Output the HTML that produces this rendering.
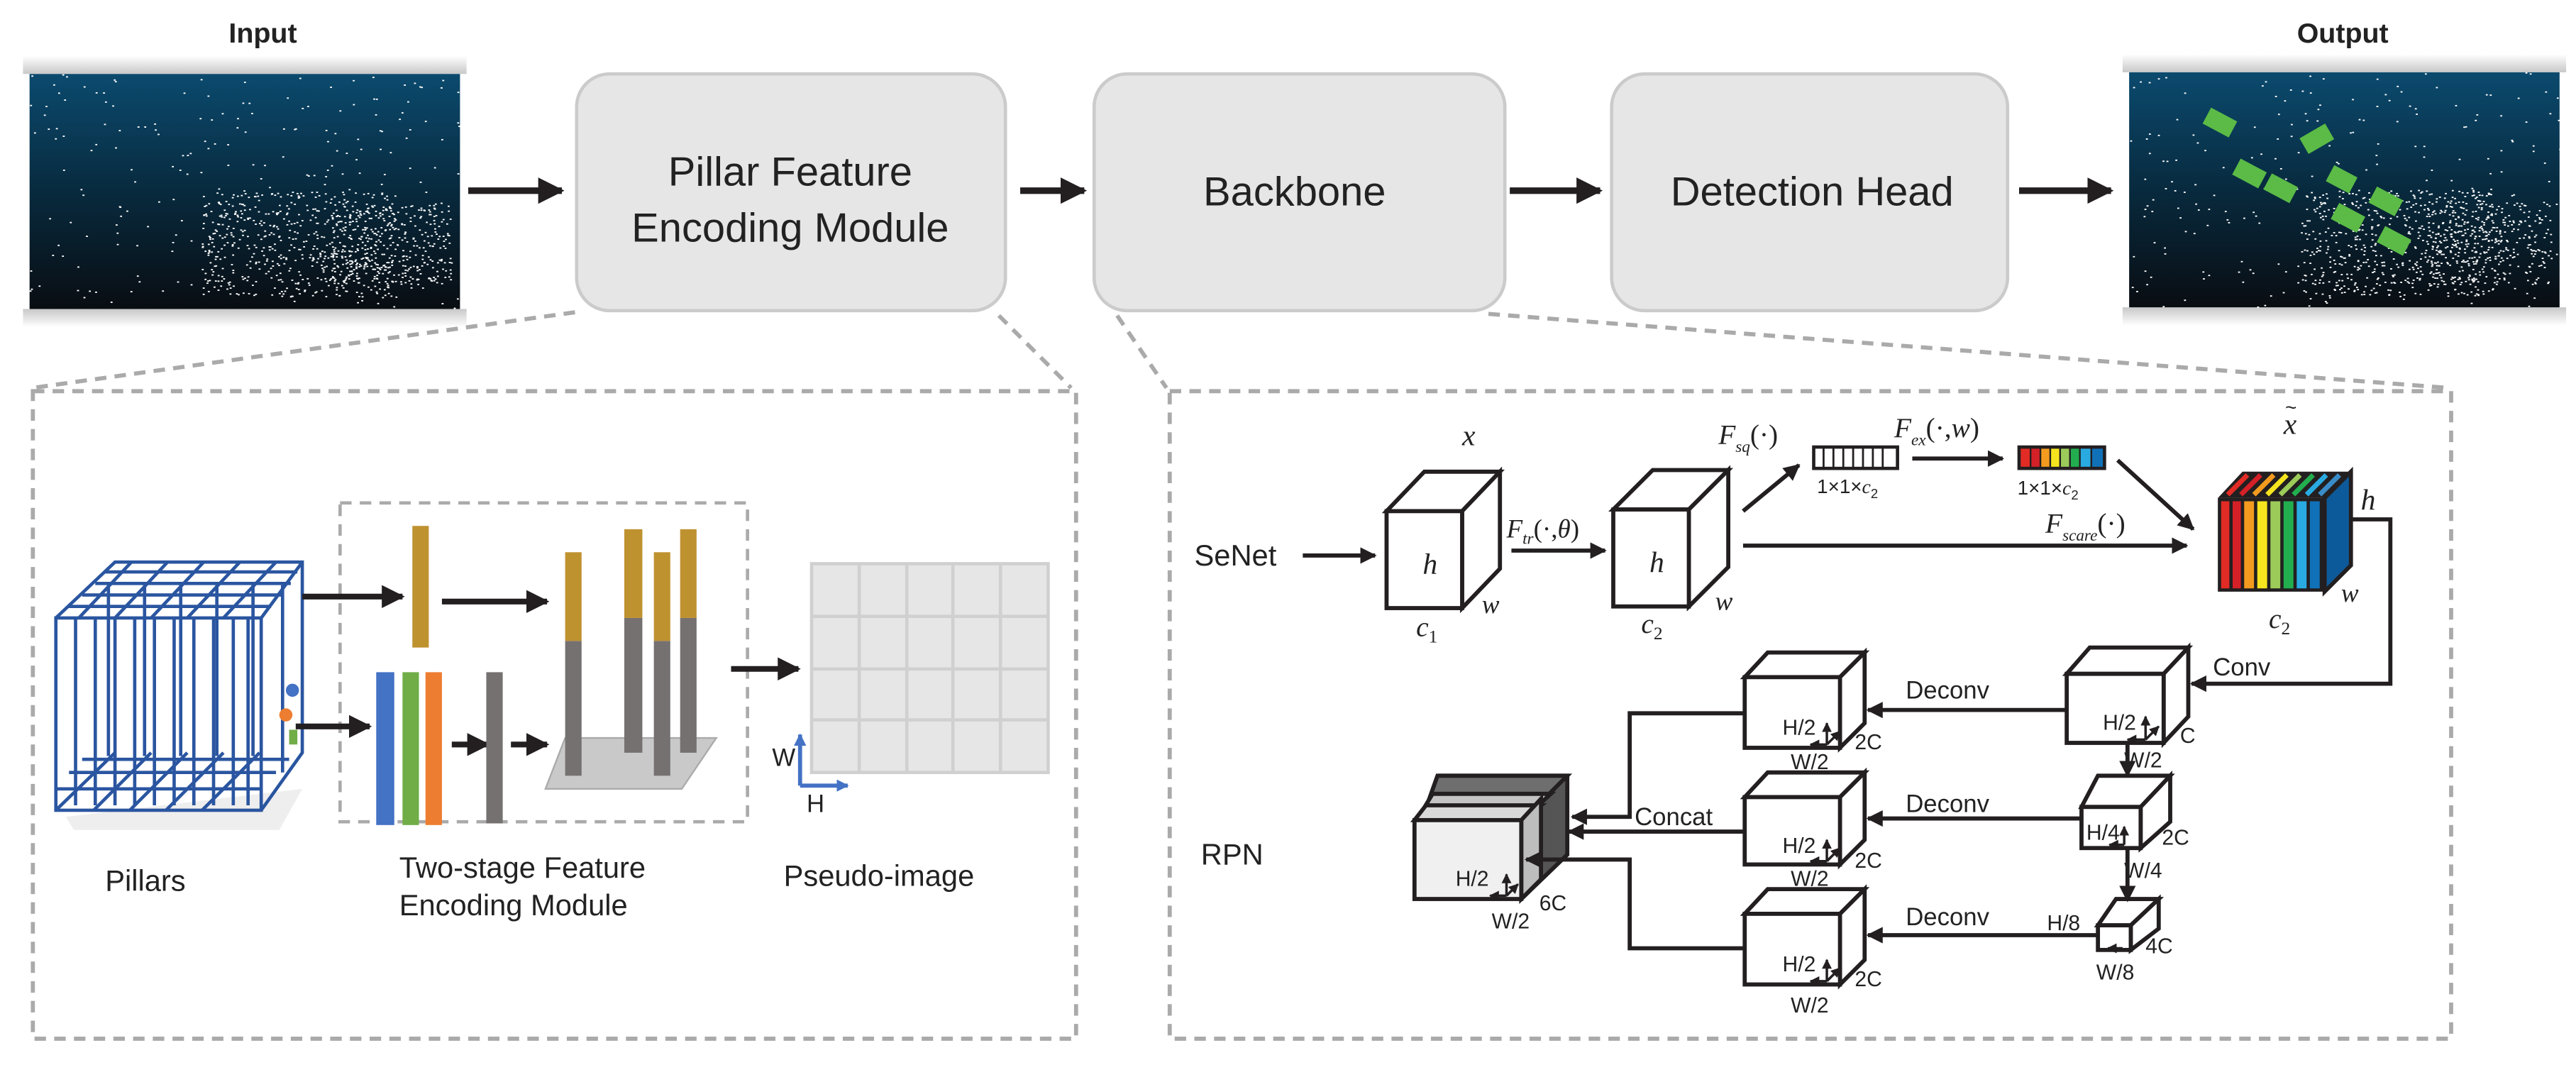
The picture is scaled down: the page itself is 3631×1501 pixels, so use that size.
<!DOCTYPE html>
<html><head><meta charset="utf-8"><style>
html,body{margin:0;padding:0;background:#fff}
svg{display:block}
.s{font-family:"Liberation Sans",sans-serif;fill:#222}
.m{font-family:"Liberation Serif",serif;font-style:italic;fill:#222}
</style></head><body>
<svg width="3631" height="1501" viewBox="0 0 1568 648" preserveAspectRatio="none" xmlns="http://www.w3.org/2000/svg">
<defs>
<marker id="a" viewBox="0 0 10 10" refX="9" refY="5" markerWidth="4" markerHeight="4" orient="auto"><path d="M0,0L10,5L0,10z" fill="#231f20"/></marker>
<marker id="c" viewBox="0 0 10 10" refX="9" refY="5" markerWidth="3" markerHeight="3" orient="auto"><path d="M0,0L10,5L0,10z" fill="#4472c4"/></marker>
<linearGradient id="g" x1="0" y1="0" x2="0" y2="1"><stop offset="0" stop-color="#0b4a6e"/><stop offset="0.5" stop-color="#082a3e"/><stop offset="1" stop-color="#090d12"/></linearGradient>
<linearGradient id="sh" x1="0" y1="0" x2="0" y2="1"><stop offset="0" stop-color="#fff"/><stop offset="1" stop-color="#c8c8c8"/></linearGradient>
<linearGradient id="sh2" x1="0" y1="0" x2="0" y2="1"><stop offset="0" stop-color="#c8c8c8"/><stop offset="1" stop-color="#fff"/></linearGradient>
</defs>

<text class="s" x="160" y="26" font-size="17" font-weight="bold" text-anchor="middle">Input</text>
<text class="s" x="1426" y="26" font-size="17" font-weight="bold" text-anchor="middle">Output</text>
<rect x="14" y="34" width="270" height="11" fill="url(#sh)"/>
<rect x="14" y="188" width="270" height="11" fill="url(#sh2)"/>
<rect x="1292" y="33" width="270" height="11" fill="url(#sh)"/>
<rect x="1292" y="187" width="270" height="11" fill="url(#sh2)"/>
<rect x="18" y="45" width="262" height="143" fill="url(#g)"/>
<rect x="1296" y="44" width="262" height="143" fill="url(#g)"/>
<g id="pts1" fill="#fff"></g>
<g id="pts2" fill="#fff"></g>
<g fill="#5bbb46">
<rect x="1342" y="69" width="18" height="11" transform="rotate(28 1351 75)"/>
<rect x="1401" y="79" width="18" height="11" transform="rotate(-30 1410 84)"/>
<rect x="1360" y="100" width="18" height="11" transform="rotate(28 1369 106)"/>
<rect x="1379" y="109" width="18" height="11" transform="rotate(28 1388 115)"/>
<rect x="1417" y="104" width="16" height="11" transform="rotate(28 1426 110)"/>
<rect x="1443" y="117" width="18" height="11" transform="rotate(28 1452 123)"/>
<rect x="1420" y="127" width="18" height="11" transform="rotate(28 1429 133)"/>
<rect x="1448" y="141" width="18" height="11" transform="rotate(28 1457 147)"/>
</g>

<g fill="#e6e6e6" stroke="#cbcbcb" stroke-width="2">
<rect x="351" y="45" width="261" height="144" rx="20"/>
<rect x="666" y="45" width="250" height="144" rx="20"/>
<rect x="981" y="45" width="241" height="144" rx="20"/>
</g>
<text class="s" x="481" y="113" font-size="25" text-anchor="middle">Pillar Feature</text>
<text class="s" x="481" y="147" font-size="25" text-anchor="middle">Encoding Module</text>
<text class="s" x="788" y="125" font-size="25" text-anchor="middle">Backbone</text>
<text class="s" x="1103" y="125" font-size="25" text-anchor="middle">Detection Head</text>
<g stroke="#231f20" stroke-width="4" marker-end="url(#a)">
<line x1="285" y1="116" x2="342" y2="116"/>
<line x1="621" y1="116" x2="660" y2="116"/>
<line x1="919" y1="116" x2="974" y2="116"/>
<line x1="1229" y1="116" x2="1285" y2="116"/>
</g>
<g stroke="#aaa" stroke-width="2.5" stroke-dasharray="7 5" fill="none">
<line x1="350" y1="190" x2="20" y2="236"/>
<line x1="608" y1="192" x2="652" y2="236"/>
<line x1="680" y1="192" x2="710" y2="236"/>
<line x1="906" y1="191" x2="1490" y2="236"/>
<rect x="20" y="238" width="635" height="394"/>
<rect x="712" y="238" width="780" height="394"/>
<rect x="207" y="306" width="248" height="194" stroke-width="2"/>
</g>

<!-- left panel -->
<path d="M40,497 L184,480 L170,505 L45,505z" fill="#eee"/>
<g stroke="#2a55a0" stroke-width="2" fill="none">
<rect x="34" y="376" width="125" height="117"/>
<path d="M34,376 L70,342 L184,342 L184,458 L159,493 M159,376 L184,342"/>
<path d="M48,376 L80,342 M70,376 L102,342 M92,376 L124,342 M114,376 L146,342 M136,376 L168,342"/>
<path d="M42,369 L165,369 M50,362 L172,362 M58,355 L177,355 M64,348 L181,348"/>
<path d="M46,376 V490 M58,376 V490 M70,376 V490 M82,376 V490 M94,376 V490 M106,376 V490 M118,376 V490 M130,376 V490 M142,376 V490 M151,376 V490"/>
<path d="M34,480 L159,480 M42,470 L168,470 M50,462 L176,462 M34,493 L70,458 M57,493 L92,458 M79,493 L114,458 M101,493 L136,458 M123,493 L158,458"/>
<path d="M66,356 V460 M88,356 V460 M110,356 V460 M132,356 V460 M154,356 V460 M172,356 V470"/>
</g>
<circle cx="178" cy="420" r="4" fill="#4472c4"/>
<circle cx="174" cy="435" r="4" fill="#ed7d31"/>
<rect x="176" y="444" width="5" height="9" fill="#70ad47"/>
<g stroke="#231f20" stroke-width="3.5" marker-end="url(#a)">
<line x1="184" y1="363" x2="245" y2="363"/>
<line x1="269" y1="366" x2="333" y2="366"/>
<line x1="180" y1="442" x2="225" y2="442"/>
<line x1="275" y1="453" x2="297" y2="453"/>
<line x1="311" y1="453" x2="333" y2="453"/>
<line x1="445" y1="407" x2="486" y2="407"/>
</g>
<rect x="251" y="320" width="10" height="74" fill="#bf9230"/>
<rect x="229" y="409" width="11" height="93" fill="#4472c4"/>
<rect x="245" y="409" width="10" height="93" fill="#70ad47"/>
<rect x="259" y="409" width="10" height="93" fill="#ed7d31"/>
<rect x="296" y="409" width="10" height="92" fill="#767171"/>
<polygon points="344,449 436,449 415,480 332,480" fill="#c9c9c9" stroke="#aaa" stroke-width="1"/>
<g fill="#767171">
<rect x="344" y="390" width="10" height="82"/><rect x="380" y="376" width="11" height="82"/>
<rect x="398" y="390" width="10" height="82"/><rect x="414" y="376" width="10" height="82"/></g>
<g fill="#bf9230">
<rect x="344" y="336" width="10" height="54"/><rect x="380" y="322" width="11" height="54"/>
<rect x="398" y="336" width="10" height="54"/><rect x="414" y="322" width="10" height="54"/></g>
<rect x="494" y="343" width="144" height="127" fill="#e6e6e6" stroke="#d0d0d0" stroke-width="2"/>
<g stroke="#d0d0d0" stroke-width="2">
<line x1="523" y1="343" x2="523" y2="470"/><line x1="552" y1="343" x2="552" y2="470"/>
<line x1="580" y1="343" x2="580" y2="470"/><line x1="609" y1="343" x2="609" y2="470"/>
<line x1="494" y1="375" x2="638" y2="375"/><line x1="494" y1="407" x2="638" y2="407"/><line x1="494" y1="438" x2="638" y2="438"/>
</g>
<g stroke="#4472c4" stroke-width="2.5" fill="none" marker-end="url(#c)">
<path d="M487,478 V447"/><path d="M487,478 H516"/>
</g>
<text class="s" x="470" y="466" font-size="15">W</text>
<text class="s" x="491" y="494" font-size="15">H</text>
<text class="s" x="64" y="542" font-size="18">Pillars</text>
<text class="s" x="243" y="534" font-size="18">Two-stage Feature</text>
<text class="s" x="243" y="557" font-size="18">Encoding Module</text>
<text class="s" x="477" y="539" font-size="18">Pseudo-image</text>

<!-- right panel -->
<text class="s" x="727" y="344" font-size="18">SeNet</text>
<text class="s" x="731" y="526" font-size="18">RPN</text>
<g stroke="#231f20" stroke-width="2.5" fill="#fff">
<polygon points="844,311 867,287 913,287 890,311"/><polygon points="890,311 913,287 913,346 890,370"/><rect x="844" y="311" width="46" height="59"/>
<polygon points="982,310 1006,286 1052,286 1028,310"/><polygon points="1028,310 1052,286 1052,345 1028,369"/><rect x="982" y="310" width="46" height="59"/>
</g>
<text class="m" x="890" y="271" font-size="18">x</text>
<text class="m" x="866" y="349" font-size="18">h</text>
<text class="m" x="1004" y="348" font-size="18">h</text>
<text class="m" x="902" y="373" font-size="16">w</text>
<text class="m" x="1044" y="371" font-size="16">w</text>
<text class="m" x="862" y="387" font-size="17">c<tspan font-size="11" font-style="normal" dy="4">1</tspan></text>
<text class="m" x="999" y="385" font-size="17">c<tspan font-size="11" font-style="normal" dy="4">2</tspan></text>
<text class="m" x="917" y="327" font-size="16">F<tspan font-size="10" dy="4">tr</tspan><tspan dy="-4" font-style="normal">(·,</tspan>θ<tspan font-style="normal">)</tspan></text>
<text class="m" x="1046" y="270" font-size="17">F<tspan font-size="10" dy="5">sq</tspan><tspan dy="-5" font-style="normal">(·)</tspan></text>
<text class="m" x="1153" y="266" font-size="17">F<tspan font-size="10" dy="5">ex</tspan><tspan dy="-5" font-style="normal">(·,</tspan>w<tspan font-style="normal">)</tspan></text>
<text class="m" x="1245" y="324" font-size="17">F<tspan font-size="10" dy="5">scare</tspan><tspan dy="-5" font-style="normal">(·)</tspan></text>
<text class="m" x="1390" y="264" font-size="18">x</text><text class="s" x="1391" y="252" font-size="12">~</text>
<g stroke="#231f20" stroke-width="2.5" marker-end="url(#a)">
<line x1="793" y1="338" x2="837" y2="338"/>
<line x1="920" y1="335" x2="977" y2="335"/>
<line x1="1061" y1="311" x2="1095" y2="283"/>
<line x1="1164" y1="279" x2="1219" y2="279"/>
<line x1="1289" y1="280" x2="1335" y2="322"/>
<line x1="1061" y1="332" x2="1331" y2="332"/>
</g>
<rect x="1104" y="272" width="51" height="13" fill="#fff" stroke="#231f20" stroke-width="2"/>
<g stroke="#231f20" stroke-width="1.2"><line x1="1110" y1="272" x2="1110" y2="285"/><line x1="1116" y1="272" x2="1116" y2="285"/><line x1="1122" y1="272" x2="1122" y2="285"/><line x1="1128" y1="272" x2="1128" y2="285"/><line x1="1134" y1="272" x2="1134" y2="285"/><line x1="1140" y1="272" x2="1140" y2="285"/><line x1="1146" y1="272" x2="1146" y2="285"/></g>
<g stroke="#231f20" stroke-width="1">
<rect x="1229" y="272" width="7" height="13" fill="#e32b25"/><rect x="1236" y="272" width="6" height="13" fill="#d42027"/><rect x="1242" y="272" width="6" height="13" fill="#f39b1f"/><rect x="1248" y="272" width="6" height="13" fill="#f6e51e"/><rect x="1254" y="272" width="6" height="13" fill="#9ccb5a"/><rect x="1260" y="272" width="6" height="13" fill="#22ae4f"/><rect x="1266" y="272" width="7" height="13" fill="#29abe2"/><rect x="1273" y="272" width="8" height="13" fill="#1071b9"/>
</g>
<rect x="1229" y="272" width="52" height="13" fill="none" stroke="#231f20" stroke-width="2"/>
<text class="s" x="1106" y="300" font-size="12">1×1×<tspan font-family="Liberation Serif" font-style="italic">c</tspan><tspan font-size="8" dy="3">2</tspan></text>
<text class="s" x="1228" y="301" font-size="12">1×1×<tspan font-family="Liberation Serif" font-style="italic">c</tspan><tspan font-size="8" dy="3">2</tspan></text>

<polygon points="1350,303 1365,287 1431,287 1415,303" fill="#231f20"/>
<g stroke-width="3">
<line x1="1356" y1="301" x2="1368" y2="289" stroke="#e32b25"/><line x1="1364" y1="301" x2="1376" y2="289" stroke="#d42027"/>
<line x1="1372" y1="301" x2="1384" y2="289" stroke="#f39b1f"/><line x1="1380" y1="301" x2="1392" y2="289" stroke="#f6e51e"/>
<line x1="1388" y1="301" x2="1400" y2="289" stroke="#9ccb5a"/><line x1="1396" y1="301" x2="1408" y2="289" stroke="#22ae4f"/>
<line x1="1404" y1="301" x2="1416" y2="289" stroke="#29abe2"/><line x1="1412" y1="301" x2="1424" y2="289" stroke="#3a8cc8"/>
</g>
<polygon points="1415,303 1431,287 1431,344 1415,360" fill="#0d5a9a" stroke="#231f20" stroke-width="2.5"/>
<rect x="1350" y="303" width="65" height="57" fill="#231f20"/>
<rect x="1352" y="305" width="5" height="53" fill="#e32b25"/><rect x="1359" y="305" width="5" height="53" fill="#d42027"/>
<rect x="1366" y="305" width="6" height="53" fill="#f39b1f"/><rect x="1374" y="305" width="6" height="53" fill="#f6e51e"/>
<rect x="1382" y="305" width="6" height="53" fill="#9ccb5a"/><rect x="1390" y="305" width="6" height="53" fill="#22ae4f"/>
<rect x="1398" y="305" width="6" height="53" fill="#29abe2"/><rect x="1406" y="305" width="6" height="53" fill="#1071b9"/>
<text class="m" x="1437" y="310" font-size="18">h</text>
<text class="m" x="1425" y="366" font-size="16">w</text>
<text class="m" x="1381" y="382" font-size="17">c<tspan font-size="11" font-style="normal" dy="4">2</tspan></text>

<path d="M1431,316 H1455 V416 H1334" fill="none" stroke="#231f20" stroke-width="2.5" marker-end="url(#a)"/>
<text class="s" x="1347" y="411" font-size="15">Conv</text>
<g stroke="#231f20" stroke-width="2.5" fill="#fff">
<polygon points="1258,410 1272,394 1332,394 1317,410"/><polygon points="1317,410 1332,394 1332,436 1317,452"/><rect x="1258" y="410" width="59" height="42"/>
<polygon points="1267,491 1277,472 1321,472 1303,491"/><polygon points="1303,491 1321,472 1321,500 1303,516"/><rect x="1267" y="491" width="36" height="25"/>
<polygon points="1277,563 1288,547 1314,547 1297,563"/><polygon points="1297,563 1314,547 1314,565 1297,578"/><rect x="1277" y="563" width="20" height="15"/>
<polygon points="1062,412 1076,397 1135,397 1120,412"/><polygon points="1120,412 1135,397 1135,440 1120,455"/><rect x="1062" y="412" width="58" height="43"/>
<polygon points="1062,485 1076,470 1135,470 1120,485"/><polygon points="1120,485 1135,470 1135,511 1120,526"/><rect x="1062" y="485" width="58" height="41"/>
<polygon points="1062,556 1076,541 1135,541 1120,556"/><polygon points="1120,556 1135,541 1135,584 1120,599"/><rect x="1062" y="556" width="58" height="43"/>
</g>
<g stroke="#231f20" stroke-width="2.5">
<polygon points="880,472 954,472 954,520 926,547 926,499" fill="#555"/>
<polygon points="870,486 875,472 954,472 940,486" fill="#6e6e6e"/>
<polygon points="866,493 872,483 944,483 933,493" fill="#c4c4c4"/>
<polygon points="861,499 868,490 938,490 926,499" fill="#d9d9d9"/>
<polygon points="926,499 938,486 938,535 926,547" fill="#bdbdbd"/>
<rect x="861" y="499" width="65" height="48" fill="#f0f0f0"/>
</g>
<g stroke="#231f20" stroke-width="2.5" fill="none" marker-end="url(#a)">
<line x1="1295" y1="452" x2="1295" y2="472"/>
<line x1="1295" y1="516" x2="1295" y2="548"/>
<line x1="1258" y1="432" x2="1137" y2="432"/>
<line x1="1267" y1="498" x2="1137" y2="498"/>
<line x1="1277" y1="569" x2="1137" y2="569"/>
<path d="M1062,434 H992 V497 H957"/>
<line x1="1062" y1="506" x2="955" y2="506"/>
<path d="M1062,577 H992 V523 H929"/>
</g>
<g stroke="#231f20" stroke-width="1.5" fill="none" marker-end="url(#a)">
<line x1="1306" y1="450" x2="1306" y2="436"/><line x1="1306" y1="450" x2="1295" y2="450"/><line x1="1306" y1="450" x2="1314" y2="442"/>
<line x1="1112" y1="453" x2="1112" y2="440"/><line x1="1112" y1="453" x2="1102" y2="453"/><line x1="1112" y1="453" x2="1120" y2="445"/>
<line x1="1112" y1="524" x2="1112" y2="511"/><line x1="1112" y1="524" x2="1102" y2="524"/><line x1="1112" y1="524" x2="1120" y2="516"/>
<line x1="1112" y1="597" x2="1112" y2="584"/><line x1="1112" y1="597" x2="1102" y2="597"/><line x1="1112" y1="597" x2="1120" y2="589"/>
<line x1="1293" y1="514" x2="1293" y2="503"/><line x1="1293" y1="514" x2="1284" y2="514"/>
<line x1="1292" y1="577" x2="1283" y2="577"/>
<line x1="917" y1="545" x2="917" y2="532"/><line x1="917" y1="545" x2="907" y2="545"/><line x1="917" y1="545" x2="924" y2="538"/>
</g>
<g font-size="13">
<text x="1160" y="425" font-size="15" class="s">Deconv</text>
<text x="1160" y="494" font-size="15" class="s">Deconv</text>
<text x="1160" y="563" font-size="15" class="s">Deconv</text>
<text x="995" y="502" font-size="15" class="s">Concat</text>
<text x="1280" y="444" class="s">H/2</text><text x="1327" y="452" class="s">C</text><text x="1293" y="467" class="s">W/2</text>
<text x="1270" y="511" class="s">H/4</text><text x="1316" y="514" class="s">2C</text><text x="1293" y="534" class="s">W/4</text>
<text x="1246" y="566" class="s">H/8</text><text x="1306" y="580" class="s">4C</text><text x="1276" y="596" class="s">W/8</text>
<text x="1085" y="447" class="s">H/2</text><text x="1129" y="456" class="s">2C</text><text x="1090" y="468" class="s">W/2</text>
<text x="1085" y="519" class="s">H/2</text><text x="1129" y="528" class="s">2C</text><text x="1090" y="539" class="s">W/2</text>
<text x="1085" y="591" class="s">H/2</text><text x="1129" y="600" class="s">2C</text><text x="1090" y="616" class="s">W/2</text>
<text x="886" y="539" class="s">H/2</text><text x="937" y="554" class="s">6C</text><text x="908" y="565" class="s">W/2</text>
</g>
</svg>
<script>
(function(){
var seed=7;function r(){seed=(seed*16807)%2147483647;return seed/2147483647;}
function fill(id,x0,y0,w,h){var g=document.getElementById(id),s='';
for(var i=0;i<1100;i++){var u,v;
if(i<250){u=r();v=r();}
else if(i<800){u=0.4+0.45*r();v=0.5+0.45*r();}
else {u=0.7+0.28*r();v=0.55+0.35*r();}
var x=x0+u*w,y=y0+v*h;s+='<rect x="'+x.toFixed(1)+'" y="'+y.toFixed(1)+'" width="1.2" height="0.8"/>';}
g.innerHTML=s;}
fill('pts1',18,45,262,143);fill('pts2',1296,44,262,143);
})();
</script>
</body></html>
